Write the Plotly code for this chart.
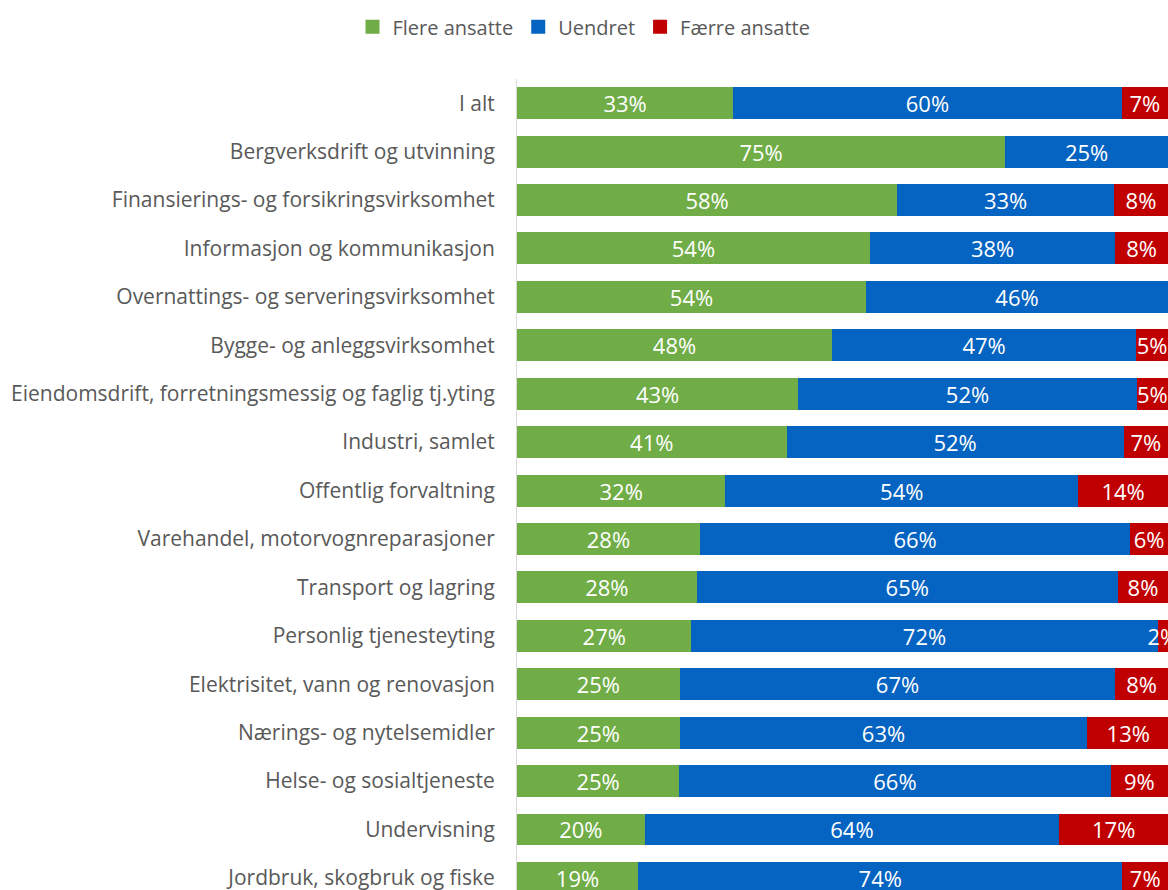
import plotly.graph_objects as go

categories = [
    "I alt",
    "Bergverksdrift og utvinning",
    "Finansierings- og forsikringsvirksomhet",
    "Informasjon og kommunikasjon",
    "Overnattings- og serveringsvirksomhet",
    "Bygge- og anleggsvirksomhet",
    "Eiendomsdrift, forretningsmessig og faglig tj.yting",
    "Industri, samlet",
    "Offentlig forvaltning",
    "Varehandel, motorvognreparasjoner",
    "Transport og lagring",
    "Personlig tjenesteyting",
    "Elektrisitet, vann og renovasjon",
    "Nærings- og nytelsemidler",
    "Helse- og sosialtjeneste",
    "Undervisning",
    "Jordbruk, skogbruk og fiske",
]
flere = [33.2, 75.0, 58.4, 54.2, 53.6, 48.4, 43.2, 41.4, 32.0, 28.1, 27.6, 26.8, 25.0, 25.0, 24.9, 19.6, 18.6]
uendret = [59.7, 25.0, 33.3, 37.7, 46.4, 46.7, 52.0, 51.8, 54.2, 66.1, 64.7, 71.6, 66.9, 62.6, 66.3, 63.7, 74.4]
faerre = [7.1, None, 8.3, 8.1, None, 4.9, 4.8, 6.8, 13.8, 5.8, 7.7, 1.6, 8.1, 12.6, 8.8, 16.7, 7.0]

series = [
    ("Flere ansatte", flere, "#70AD47"),
    ("Uendret", uendret, "#0563C1"),
    ("Færre ansatte", faerre, "#C00000"),
]

FONT = "Open Sans"

fig = go.Figure()
for name, vals, color in series:
    fig.add_trace(go.Bar(
        y=categories, x=vals, name=name, orientation="h",
        marker=dict(color=color, line=dict(width=0)),
        texttemplate="%{x:.0f}%", textposition="inside",
        insidetextanchor="middle", constraintext="none", textangle=0,
        textfont=dict(color="white", size=22, family=FONT),
        width=0.66, showlegend=False, legendgroup=name,
    ))
# legend entries with larger square swatches
for name, vals, color in series:
    fig.add_trace(go.Scatter(
        x=[None], y=[None], mode="markers", name=name, legendgroup=name,
        marker=dict(symbol="square", size=14, color=color),
        hoverinfo="skip",
    ))

fig.update_layout(
    barmode="stack",
    width=1168, height=890,
    margin=dict(l=517, r=0, t=79, b=0),
    plot_bgcolor="white", paper_bgcolor="white",
    font=dict(family=FONT, color="#595959", size=20),
    legend=dict(
        orientation="h", xref="container", yref="container",
        x=0.5, xanchor="center", y=0.97, yanchor="middle",
        font=dict(size=20, color="#595959", family=FONT), traceorder="normal",
        itemwidth=30,
    ),
    xaxis=dict(range=[0, 100], showgrid=False, showticklabels=False,
               zeroline=False, fixedrange=True),
    yaxis=dict(categoryorder="array", categoryarray=categories,
               range=[16.25, -0.5], showgrid=False, zeroline=False,
               showline=True, linecolor="#D9D9D9", linewidth=1,
               ticks="", ticklabelstandoff=17,
               tickfont=dict(size=21, color="#595959", family=FONT)),
)

fig.write_html(
    "out.html",
    config={"displayModeBar": False},
    post_script="document.body.style.margin='0';document.body.style.overflow='hidden';",
)
